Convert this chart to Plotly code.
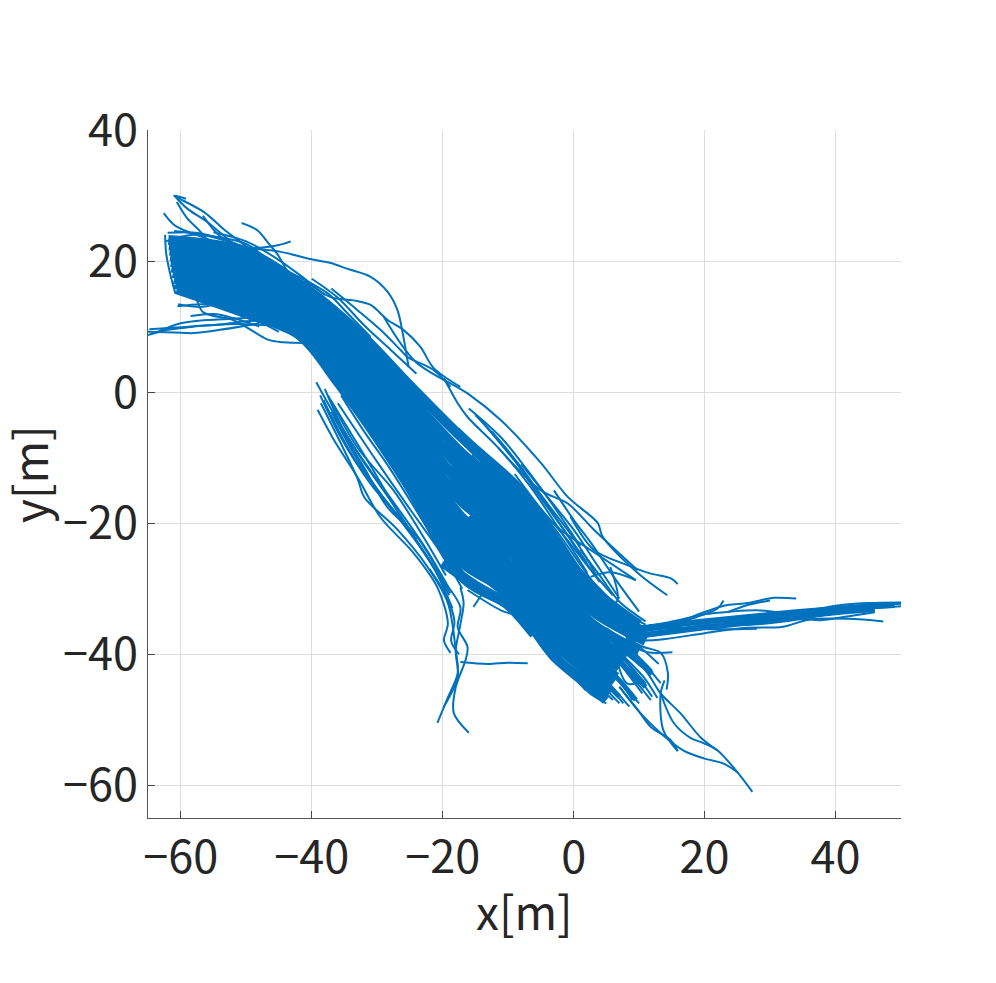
import plotly.graph_objects as go

BLUE = "#0072BD"
INK = "#262626"
FONT = "Noto Sans CJK JP"

x_ticks = [-60, -40, -20, 0, 20, 40]
y_ticks = [-60, -40, -20, 0, 20, 40]
tick_labels_x = ["−60", "−40", "−20", "0", "20", "40"]
tick_labels_y = ["−60", "−40", "−20", "0", "20", "40"]

# Dense overplotted band, read across the body of the bundle
band_tracks = [
    [(-60.6,15.7),(-50,12),(-42,8.8),(-36,1.5),(-25.7,-13.5),(-16.7,-28.5),(-8.5,-33.3),(-3,-40.3),(3,-45.3),(5,-47)],
    [(-60.8,16.5),(-50,13),(-41.8,9.5),(-35.6,2.3),(-25.6,-12),(-17,-26),(-8.5,-31.2),(-3,-38.2),(2.9,-43.5),(5.5,-46)],
    [(-61.0,17.3),(-50,14.1),(-41.6,10.3),(-35.1,3.1),(-25.6,-10.7),(-17,-24),(-8.5,-29.7),(-3,-36.8),(2.8,-42),(6,-44.5)],
    [(-61.2,18.2),(-50,15.2),(-41.4,11),(-34.6,3.9),(-25.5,-9),(-17,-21.6),(-8.5,-27.5),(-3,-34.7),(2.7,-40.4),(6.5,-43.5)],
    [(-61.4,19),(-50,16.2),(-41.2,11.8),(-34.2,4.7),(-25.4,-7.4),(-17,-19.2),(-8.5,-25.4),(-3,-32.6),(2.6,-38.6),(7,-42)],
    [(-61.5,19.9),(-50,17.3),(-41,12.6),(-33.7,5.4),(-25.4,-5.7),(-17,-16.8),(-8.5,-23.2),(-3,-30.5),(2.5,-36.8),(8,-40.5)],
    [(-61.6,20.7),(-50,18.4),(-40.8,13.3),(-33.3,6.2),(-25.3,-4),(-17,-14.3),(-8.5,-21),(-3,-28.4),(2.4,-35),(10,-39.5)],
    [(-61.7,21.6),(-50,19.4),(-40.6,14),(-32.9,7),(-25.2,-2.4),(-17,-11.8),(-8.5,-18.9),(-3,-26.3),(2.3,-33),(11,-38)],
    [(-61.8,22.4),(-50,20.5),(-40.4,14.8),(-32.5,7.8),(-25.1,-0.8),(-17,-9.4),(-8.5,-16.7),(-3,-24.2),(2.2,-31.3),(11,-36.7)],
    [(-61.9,23.2),(-50,21.4),(-40.2,15.3),(-32.2,8.5),(-25,1),(-17,-7),(-8.5,-14.6),(-3,-22.1),(2.1,-29.3),(10,-35.5)],
    [(-20,-14),(-15,-18.5),(-10,-24),(-5,-30)],
    [(-20,-17),(-15,-21.5),(-10,-26.5),(-5,-33)],
    [(-20,-20),(-15,-24.5),(-10,-29),(-5,-35)],
    [(-20,-23),(-15,-27),(-10,-31),(-5,-37)],
    [(-20,-11),(-15,-15.5),(-10,-21),(-5,-27)],
    [(-20,-8),(-15,-12.5),(-10,-18),(-5,-24)],
    [(-20,-26),(-15,-29.5),(-10,-32.5),(-6,-37)],
    [(-16,-10),(-11,-16),(-6,-23)],
    [(-16,-13),(-11,-19),(-6,-26)],
    [(-16,-16),(-11,-22),(-6,-29)],
    [(-16,-19),(-11,-25),(-6,-31.5)],
    [(-16,-22),(-11,-27.5),(-6,-34)],
    [(-16,-25),(-11,-30),(-6,-36)],
    [(-14,-10.5),(-10,-15),(-6,-20.5)],
    [(-14,-13),(-10,-17.5),(-6,-22.5)],
    [(-18,-6),(-13,-11),(-9,-16)],
    [(-18.5,-12),(-14,-16),(-10,-20.5)],
    [(-22,-12),(-18,-15),(-13,-20)],
]

tail_band = [
    [(8,-37.4),(20,-35.9),(30,-34.8),(40,-33.6),(46,-33.1)],
    [(9,-36.2),(18,-35.2),(26,-34.4),(34,-33.6),(44,-32.8),(49,-32.5)],
]

fan_band = [
    [(3,-40),(7,-44),(9.5,-47)],
    [(4,-38),(8,-42),(11,-45)],
    [(5,-37),(9,-40.5),(12,-43)],
    [(1,-40),(4,-43.5),(7,-46.5)],
]

left_tracks = [
    [(-65,8.7),(-62,9.5),(-58,10),(-54,10.3),(-50,10.8),(-46,11)],
    [(-65,9.2),(-61,9.1),(-58,9),(-54,9.5),(-48,10.5)],
    [(-64,9),(-60,10.5),(-56,11),(-52,11.2),(-47,11.5)],
    [(-64.8,9.6),(-60,9.9),(-56,10.2),(-51,10.4),(-47,10.2)],
    [(-58.5,11.6),(-55,11.9),(-52,11.3),(-48,10)],
    [(-60.5,13.1),(-57,13.4),(-54,13.3),(-50,12.5)],
    [(-60.4,13.4),(-57,13),(-53,13.6),(-50,13)],
    [(-61.2,16.3),(-58,14.8),(-56.6,12.2),(-52,11),(-49.8,9.8),(-46.7,8),(-44.3,7.6),(-41,7.5)],
    [(-61,15.3),(-57,14),(-53,12.6),(-49,11.2),(-45,9.2)],
    [(-61,30),(-59,28),(-56,26),(-53,23.5),(-50,21)],
    [(-59.2,29.5),(-61,30),(-56.5,27.5),(-53,24.5),(-49,21.5)],
    [(-60.6,29),(-59,26.5),(-57,24.5),(-55,22)],
    [(-62.6,27.3),(-61,25.5),(-58.5,24.3),(-55,23),(-50,20)],
    [(-56.6,26.9),(-53.9,23.7),(-50.4,22),(-46,19.5)],
    [(-50.7,25.8),(-48.3,24.7),(-46.6,22.7),(-45.2,21),(-43.7,18.3)],
    [(-43.2,23),(-45.2,22.4),(-49.3,22),(-53.4,23.2),(-57.4,24.3),(-62,24.3)],
    [(-50.4,22),(-44.7,21.4),(-40.2,20.3),(-37.1,19.7),(-34.5,18.8),(-31,17.6),(-28.4,15.3),(-26.9,12.5),(-26.1,9),(-25.2,3.8)],
    [(-43.2,18.2),(-37.6,15.1),(-34.5,12),(-31,8.4)],
    [(-41,17),(-37.1,14.5),(-33.6,14),(-31,13.3),(-28.4,11),(-26,9.5),(-23.4,6.9),(-21.4,3.7),(-17.3,0.8)],
    [(-37,15.8),(-33,12.5),(-29.5,9.5),(-26.5,6.5),(-25.3,5.3),(-21.4,3.4),(-18.8,0.8)],
    [(-62.4,24),(-62.2,21),(-61.6,18),(-60.8,15)],
    [(-62.3,23),(-58,24),(-52,22.8),(-47,20),(-42,16.8)],
    [(-61,24.6),(-55,23.8),(-50,22.6),(-45,19),(-40,16.2)],
    [(-55,24.4),(-50,23),(-46,20.8),(-42,18),(-38,14.8)],
    [(-40,17.3),(-36,14.4),(-32,10.2),(-28,6.5),(-24,2.8)],
]

upper_right_tracks = [
    [(-29,11.5),(-24.1,4.6),(-16.2,-0.2),(-11.1,-4.3),(-5,-10.8),(-0.9,-16),(3.7,-20),(4.4,-22),(9.8,-27.6),(14.3,-31)],
    [(-0.5,-19),(3.1,-24.1),(8.2,-26.4),(11.8,-27.7),(14.8,-28.4),(15.9,-29.3)],
    [(-11.6,-8.4),(-5,-15),(-0.9,-17),(3.1,-21),(9.8,-27.2)],
    [(-6,-17),(-2,-21),(2.6,-24.1),(9.5,-28.7)],
    [(-19.8,2.1),(-17.7,-1.7),(-16.2,-3.8),(-11.6,-8.4),(-7,-13.9),(-2.4,-20.6),(2.1,-27.6)],
    [(-14,-4.5),(-9,-10.5),(-4,-17),(0.5,-23),(3.5,-28)],
    [(-9,-12.5),(-5,-17.8),(-1,-22.5),(2.5,-27),(6,-31)],
    [(-5.5,-17.5),(-2,-22),(1.5,-27),(4.5,-31)],
    [(2.6,-28.2),(5.6,-27.5),(9.5,-28.7)],
    [(5.6,-26.7),(6.7,-31.8),(5,-33)],
    [(1,-27),(4,-30),(7.5,-33.5),(11,-35.5)],
    [(-15,-3.5),(-10,-9),(-6,-14.8),(-1.5,-21),(2,-26)],
    [(-12.5,-6),(-8,-11.5),(-3.5,-18),(0.5,-24),(4,-29)],
    [(-8,-11),(-4,-16),(0,-21),(3,-25.5),(7,-31.5)],
    [(-3,-15),(0,-19.5),(3,-23.5),(6,-28),(10,-33.5)],
    [(-16,-2.5),(-11,-7),(-7,-12),(-3,-17.5),(1,-23.5)],
    [(1,-24),(4,-28),(7,-32),(11,-35)],
]

lower_left_tracks = [
    [(-39.1,-2.7),(-36.6,-7.3),(-33,-13),(-29.5,-19.1),(-24.4,-24.6),(-20.8,-29.8),(-19.2,-35.3),(-19.8,-37.9),(-18.8,-39.8)],
    [(-38.6,-1.7),(-33,-13.2),(-32,-16),(-26.9,-21),(-22.3,-26.7),(-19.2,-32.2),(-18,-39.4),(-17.7,-42.9),(-19.2,-46.6),(-20.8,-50.5)],
    [(-37.1,-1.2),(-31.5,-10.4),(-26.4,-19),(-21.4,-26.7),(-17.3,-32.8),(-17.7,-35.9),(-16.2,-38.9),(-16.5,-40.9),(-18,-45),(-18.3,-49),(-16,-52)],
    [(-17.3,-29.8),(-16.8,-32.2),(-17.3,-35.5),(-18,-39.4),(-17.7,-43.5),(-19.8,-48)],
    [(-17.3,-41.2),(-13.1,-41.5),(-10,-41.3),(-7,-41.4)],
    [(-38.2,-1.2),(-34,-9.3),(-28.4,-17),(-23.4,-23.7),(-18.8,-30.7)],
    [(-36,-1.7),(-29.9,-10.8),(-24.9,-18),(-19.8,-25.2),(-17,-30)],
    [(-37.5,-0.5),(-33,-8.5),(-27.5,-15),(-23,-22),(-19.5,-28)],
    [(-39.3,1.5),(-36.5,-3.5),(-32.5,-10),(-28,-16.5),(-24,-22.5)],
    [(-38,0.5),(-35,-6),(-31,-12),(-27,-17.5),(-22.5,-24),(-19,-30)],
    [(-37,-3),(-33.5,-9.5),(-29.5,-15.5),(-25.5,-20.5),(-21,-27.5),(-18.5,-33)],
    [(-38.7,-0.5),(-35.5,-7),(-31,-14),(-26,-20),(-21.8,-26),(-19,-31)],
    [(-35.5,-0.5),(-32,-6),(-28.5,-11),(-25,-16.5),(-21,-23),(-18,-28)],
    [(-36.5,-4),(-32,-11.5),(-28.5,-17.5),(-24,-22),(-20.3,-28)],
    [(-34,-1),(-30,-7.5),(-26.5,-13),(-23,-18.5),(-19,-25)],
    [(-15.3,-32.8),(-13.9,-30.7)],
    [(-16.2,-30.2),(-11.1,-33.3),(-8.1,-34.4),(-5,-37)],
    [(-14,-29.5),(-10,-32.5),(-6,-35)],
    [(-22,-27),(-19.5,-31),(-18.2,-35),(-18.7,-38),(-17.5,-40)],
    [(-8,-34),(-4.5,-38.5),(-1,-42.5),(2.5,-46),(5,-47.5)],
]

lower_right_tracks = [
    [(27.3,-61),(25,-58),(22,-54.7),(19.9,-53.6),(17.9,-52.8),(15.3,-50.5),(13.3,-46)],
    [(25,-58),(22.9,-56.7),(19.9,-55.9),(16.8,-54.7),(13.7,-52.4),(10.2,-49),(7,-45)],
    [(22,-54.7),(19.4,-52.7),(16.3,-49),(13.3,-46),(11.3,-42.9),(8,-39)],
    [(15.9,-54.8),(13.7,-51.6),(13.3,-46),(13.9,-44)],
    [(15.9,-54.8),(14.8,-53.1),(11.8,-51.1),(9.8,-48.5),(7,-45)],
    [(14.2,-45.4),(14.4,-42.9),(13.3,-39.8),(10.7,-38.9),(8,-37.5)],
    [(15.1,-39.7),(11.3,-39.7),(8.7,-38.6),(5,-36)],
    [(13.3,-44.4),(9.8,-40.5),(5.6,-37.4),(2,-34)],
    [(12,-46.5),(8.2,-41.4),(4.1,-37.9),(1,-35)],
    [(12.8,-46.7),(10.7,-43.5),(6.7,-39.4),(3,-36)],
    [(1.8,-45.5),(-0.5,-42.4),(-3,-39)],
    [(4.4,-46.3),(1.1,-42.9),(-2,-38)],
    [(7.6,-47.5),(3.7,-42.9),(0,-38)],
    [(11.8,-47),(8.5,-43),(5,-39.5),(1,-36)],
    [(10,-47.5),(6.5,-43.5),(3.5,-40)],
    [(6,-47),(3,-44),(0,-40.5)],
    [(9,-47),(6,-42.5),(2.5,-38.5)],
    [(11,-44.5),(8,-41),(4.5,-37)],
    [(8.5,-48),(5,-44),(2,-41)],
    [(12,-42.5),(9,-39.5),(6,-37)],
    [(10.5,-46),(7.5,-42),(4.5,-38.5)],
    [(7,-47.5),(4.5,-44.8),(2.5,-42)],
    [(13,-41.5),(10,-38.8),(7,-36.5)],
    [(10.8,-44),(8.2,-44.5),(6.5,-40.5)],
]

tail_tracks = [
    [(9,-36),(14,-35.5),(20,-35),(27,-34.2),(32,-33.8),(38,-33),(43,-32.8),(50,-32.3)],
    [(9,-37),(15,-36.6),(22,-35.7),(28,-35.2),(33,-34.6),(38,-33.5),(44,-33.1),(50,-32.7)],
    [(8,-38),(13,-37.8),(20,-36.8),(26,-36),(32,-35.8),(36,-34.7),(42,-34.6),(47.3,-35)],
    [(10,-36),(16,-34.8),(20,-33.9),(24,-33.5),(28,-33.3),(34,-33.8),(38,-33.4)],
    [(34,-31.5),(30.6,-31.4),(26.6,-32.2),(23.5,-32.5),(19.9,-33.6),(15.8,-35.1),(11.5,-35.6)],
    [(22.9,-31.8),(22,-33),(18.3,-34.5),(13,-35.8)],
    [(23.5,-33.6),(26.6,-32.5),(30,-31.8)],
    [(36,-33.5),(40,-32.6),(45,-32.2),(50,-32.1)],
    [(30,-35.2),(34,-34.6),(38,-34.8),(42,-34.2),(46,-33.6)],
    [(7,-36),(11,-36.2),(16,-36),(22,-36.2),(28,-36.1)],
    [(12,-37.2),(18,-36.2),(24,-35.2),(30,-34.8),(36,-34)],
    [(10,-36.6),(16,-35.7),(22,-34.7),(28,-34.1),(34,-33.4)],
    [(14,-36.5),(20,-35.6),(27,-35.5),(33,-34.9),(37,-34.2)],
]

fig = go.Figure()


def add_tracks(tracks, width):
    for track in tracks:
        fig.add_trace(go.Scatter(
            x=[p[0] for p in track], y=[p[1] for p in track], mode="lines",
            line=dict(color=BLUE, width=width, shape="spline", smoothing=0.9),
            showlegend=False, hoverinfo="skip",
        ))


add_tracks(band_tracks, 10)
add_tracks(tail_band, 6)
add_tracks(fan_band, 5)
for group in (left_tracks, upper_right_tracks, lower_left_tracks, lower_right_tracks, tail_tracks):
    add_tracks(group, 2)

axis_common = dict(
    showgrid=True, gridcolor="#dedede", gridwidth=1, zeroline=False,
    showline=True, linecolor="#555555", linewidth=1,
    ticks="inside", ticklen=7, tickcolor="#444444", tickwidth=1,
    tickfont=dict(family=FONT, size=45, color=INK),
    automargin=False,
)
title_font = dict(family=FONT, size=46, color=INK)
fig.update_layout(
    width=996, height=983, autosize=False,
    margin=dict(l=140, r=103, t=122, b=173),
    paper_bgcolor="white", plot_bgcolor="white",
    xaxis=dict(range=[-65, 50], tickvals=x_ticks, ticktext=tick_labels_x, **axis_common),
    yaxis=dict(range=[-65, 40], tickvals=y_ticks, ticktext=tick_labels_y, **axis_common),
    annotations=[
        dict(text="x[m]", xref="paper", yref="paper", x=0.5, y=0, xanchor="center",
             yanchor="middle", yshift=-92, showarrow=False, font=title_font),
        dict(text="y[m]", xref="paper", yref="paper", x=0, y=0.5, xanchor="center",
             yanchor="middle", xshift=-120, textangle=-90, showarrow=False, font=title_font),
    ],
)
fig.write_html("out.html")
